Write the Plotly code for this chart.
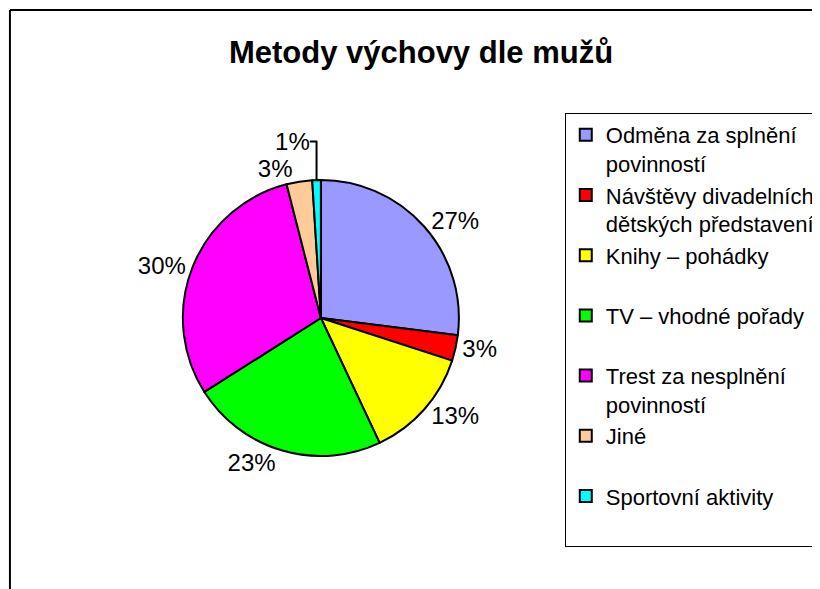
import plotly.graph_objects as go

categories = [
    "Odměna za splnění<br>povinností",
    "Návštěvy divadelních<br>dětských představení",
    "Knihy – pohádky<br>&nbsp;",
    "TV – vhodné pořady<br>&nbsp;",
    "Trest za nesplnění<br>povinností",
    "Jiné<br>&nbsp;",
    "Sportovní aktivity<br>&nbsp;",
]
values = [27, 3, 13, 23, 30, 3, 1]
colors = ["#9999FF", "#FF0000", "#FFFF00", "#00FF00", "#FF00FF", "#FFCC99", "#00FFFF"]

# page body has an 8px margin; figure fills the rest of the 820x589 window
OFF = 8
W, H = 820 - OFF, 589 - OFF


def px(x):
    return (x - OFF) / W


def py(y):
    return 1 - (y - OFF) / H


cx, cy, r = 330, 318, 138

fig = go.Figure(go.Pie(
    labels=categories,
    values=values,
    sort=False,
    direction="clockwise",
    rotation=0,
    marker=dict(colors=colors, line=dict(color="black", width=2)),
    texttemplate="%{value}%",
    textposition="outside",
    textfont=dict(family="Liberation Sans, Arial", size=24, color="black"),
    hoverinfo="label+percent",
    domain=dict(x=[px(cx - r - 60), px(cx + r + 60)], y=[py(cy + r), py(cy - r)]),
))

frame = dict(color="black", width=2)
fig.update_layout(
    width=W, height=H,
    margin=dict(l=0, r=0, t=0, b=0),
    paper_bgcolor="white",
    plot_bgcolor="white",
    title=dict(
        text="<b>Metody výchovy dle mužů</b>",
        x=px(421), xanchor="center",
        y=py(52), yanchor="middle",
        font=dict(family="Liberation Sans, Arial", size=31, color="black"),
    ),
    legend=dict(
        x=px(581), xanchor="left",
        y=py(113), yanchor="top",
        bordercolor="black", borderwidth=1,
        bgcolor="white",
        valign="top",
        font=dict(family="Liberation Sans, Arial", size=22, color="black"),
        traceorder="normal",
    ),
    shapes=[
        dict(type="line", xref="paper", yref="paper",
             x0=px(10), x1=1.1, y0=py(10), y1=py(10), line=frame, layer="below"),
        dict(type="line", xref="paper", yref="paper",
             x0=px(10), x1=px(10), y0=py(10), y1=-0.1, line=frame, layer="below"),
    ],
    showlegend=True,
)

fig.write_html("out.html")
